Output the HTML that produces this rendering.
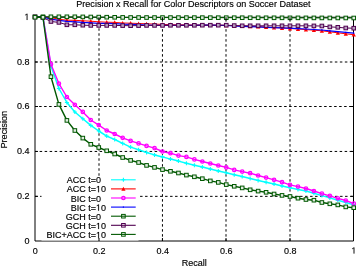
<!DOCTYPE html>
<html><head><meta charset="utf-8"><style>
html,body{margin:0;padding:0;background:#fff;width:356px;height:267px;overflow:hidden}
svg{display:block;will-change:transform}
text{font-family:"Liberation Sans",sans-serif;font-size:9px;fill:#000;stroke:#000;stroke-width:0.15px}
</style></head><body>
<svg width="356" height="267" viewBox="0 0 356 267">
<rect width="356" height="267" fill="#fff"/>
<g stroke="#000" stroke-width="1"><line x1="35.0" y1="196.35" x2="353.75" y2="196.35" stroke-dasharray="2.5 2.5" stroke-dashoffset="4.95"/><line x1="99.0" y1="241.0" x2="99.0" y2="17.25" stroke-dasharray="2.5 2.5" stroke-dashoffset="4.75"/><line x1="35.0" y1="151.45" x2="353.75" y2="151.45" stroke-dasharray="2.5 2.5" stroke-dashoffset="0.35"/><line x1="162.45" y1="241.0" x2="162.45" y2="17.25" stroke-dasharray="2.5 2.5" stroke-dashoffset="0.65"/><line x1="35.0" y1="106.5" x2="353.75" y2="106.5" stroke-dasharray="2.5 2.5" stroke-dashoffset="0.85"/><line x1="226.0" y1="241.0" x2="226.0" y2="17.25" stroke-dasharray="2.5 2.5" stroke-dashoffset="0.65"/><line x1="35.0" y1="62.0" x2="353.75" y2="62.0" stroke-dasharray="2.5 2.5" stroke-dashoffset="0.15"/><line x1="290.0" y1="241.0" x2="290.0" y2="17.25" stroke-dasharray="2.5 2.5" stroke-dashoffset="0.65"/></g>
<path d="M35.0 17.25V241.0H353.5V17.25Z" fill="none" stroke="#000" stroke-width="1"/>
<polyline points="35.00,17.25 42.97,17.25 50.94,66.00 58.91,88.50 66.88,102.50 74.84,112.00 82.81,118.70 90.78,125.40 98.75,131.00 106.72,136.10 114.69,139.50 122.66,143.40 130.62,147.10 138.59,149.80 146.56,152.50 154.53,154.90 162.50,156.90 170.47,159.10 178.44,161.10 186.41,163.30 194.38,165.20 202.34,167.10 210.31,169.00 218.28,170.90 226.25,172.80 234.22,174.70 242.19,176.60 250.16,178.50 258.12,180.40 266.09,182.30 274.06,184.10 282.03,186.00 290.00,187.80 297.97,189.40 305.94,191.00 313.91,193.30 321.88,195.60 329.84,197.90 337.81,200.20 345.78,202.50 353.75,204.90" fill="none" stroke="#00ffff" stroke-width="1.5" stroke-linejoin="round"/><path d="M33.00 17.25H37.00M35.00 15.25V19.25" stroke="#00ffff" stroke-width="1.1"/><path d="M40.97 17.25H44.97M42.97 15.25V19.25" stroke="#00ffff" stroke-width="1.1"/><path d="M48.94 66.00H52.94M50.94 64.00V68.00" stroke="#00ffff" stroke-width="1.1"/><path d="M56.91 88.50H60.91M58.91 86.50V90.50" stroke="#00ffff" stroke-width="1.1"/><path d="M64.88 102.50H68.88M66.88 100.50V104.50" stroke="#00ffff" stroke-width="1.1"/><path d="M72.84 112.00H76.84M74.84 110.00V114.00" stroke="#00ffff" stroke-width="1.1"/><path d="M80.81 118.70H84.81M82.81 116.70V120.70" stroke="#00ffff" stroke-width="1.1"/><path d="M88.78 125.40H92.78M90.78 123.40V127.40" stroke="#00ffff" stroke-width="1.1"/><path d="M96.75 131.00H100.75M98.75 129.00V133.00" stroke="#00ffff" stroke-width="1.1"/><path d="M104.72 136.10H108.72M106.72 134.10V138.10" stroke="#00ffff" stroke-width="1.1"/><path d="M112.69 139.50H116.69M114.69 137.50V141.50" stroke="#00ffff" stroke-width="1.1"/><path d="M120.66 143.40H124.66M122.66 141.40V145.40" stroke="#00ffff" stroke-width="1.1"/><path d="M128.62 147.10H132.62M130.62 145.10V149.10" stroke="#00ffff" stroke-width="1.1"/><path d="M136.59 149.80H140.59M138.59 147.80V151.80" stroke="#00ffff" stroke-width="1.1"/><path d="M144.56 152.50H148.56M146.56 150.50V154.50" stroke="#00ffff" stroke-width="1.1"/><path d="M152.53 154.90H156.53M154.53 152.90V156.90" stroke="#00ffff" stroke-width="1.1"/><path d="M160.50 156.90H164.50M162.50 154.90V158.90" stroke="#00ffff" stroke-width="1.1"/><path d="M168.47 159.10H172.47M170.47 157.10V161.10" stroke="#00ffff" stroke-width="1.1"/><path d="M176.44 161.10H180.44M178.44 159.10V163.10" stroke="#00ffff" stroke-width="1.1"/><path d="M184.41 163.30H188.41M186.41 161.30V165.30" stroke="#00ffff" stroke-width="1.1"/><path d="M192.38 165.20H196.38M194.38 163.20V167.20" stroke="#00ffff" stroke-width="1.1"/><path d="M200.34 167.10H204.34M202.34 165.10V169.10" stroke="#00ffff" stroke-width="1.1"/><path d="M208.31 169.00H212.31M210.31 167.00V171.00" stroke="#00ffff" stroke-width="1.1"/><path d="M216.28 170.90H220.28M218.28 168.90V172.90" stroke="#00ffff" stroke-width="1.1"/><path d="M224.25 172.80H228.25M226.25 170.80V174.80" stroke="#00ffff" stroke-width="1.1"/><path d="M232.22 174.70H236.22M234.22 172.70V176.70" stroke="#00ffff" stroke-width="1.1"/><path d="M240.19 176.60H244.19M242.19 174.60V178.60" stroke="#00ffff" stroke-width="1.1"/><path d="M248.16 178.50H252.16M250.16 176.50V180.50" stroke="#00ffff" stroke-width="1.1"/><path d="M256.12 180.40H260.12M258.12 178.40V182.40" stroke="#00ffff" stroke-width="1.1"/><path d="M264.09 182.30H268.09M266.09 180.30V184.30" stroke="#00ffff" stroke-width="1.1"/><path d="M272.06 184.10H276.06M274.06 182.10V186.10" stroke="#00ffff" stroke-width="1.1"/><path d="M280.03 186.00H284.03M282.03 184.00V188.00" stroke="#00ffff" stroke-width="1.1"/><path d="M288.00 187.80H292.00M290.00 185.80V189.80" stroke="#00ffff" stroke-width="1.1"/><path d="M295.97 189.40H299.97M297.97 187.40V191.40" stroke="#00ffff" stroke-width="1.1"/><path d="M303.94 191.00H307.94M305.94 189.00V193.00" stroke="#00ffff" stroke-width="1.1"/><path d="M311.91 193.30H315.91M313.91 191.30V195.30" stroke="#00ffff" stroke-width="1.1"/><path d="M319.88 195.60H323.88M321.88 193.60V197.60" stroke="#00ffff" stroke-width="1.1"/><path d="M327.84 197.90H331.84M329.84 195.90V199.90" stroke="#00ffff" stroke-width="1.1"/><path d="M335.81 200.20H339.81M337.81 198.20V202.20" stroke="#00ffff" stroke-width="1.1"/><path d="M343.78 202.50H347.78M345.78 200.50V204.50" stroke="#00ffff" stroke-width="1.1"/><path d="M351.75 204.90H355.75M353.75 202.90V206.90" stroke="#00ffff" stroke-width="1.1"/>
<polyline points="35.00,16.90 42.97,16.90 50.94,17.50 58.91,19.30 66.88,20.20 74.84,20.30 82.81,20.80 90.78,21.20 98.75,21.80 106.72,22.20 114.69,22.40 122.66,23.00 130.62,23.20 138.59,23.50 146.56,23.80 154.53,24.10 162.50,24.40 170.47,24.70 178.44,24.80 186.41,24.90 194.38,25.00 202.34,25.00 210.31,25.10 218.28,25.20 226.25,25.40 234.22,25.70 242.19,26.00 250.16,26.30 258.12,26.60 266.09,27.20 274.06,27.60 282.03,28.00 290.00,28.50 297.97,29.00 305.94,29.60 313.91,30.20 321.88,30.80 329.84,31.80 337.81,32.80 345.78,33.80 353.75,34.70" fill="none" stroke="#ff0000" stroke-width="1.0" stroke-linejoin="round"/><path d="M35.00 14.80L37.10 18.79L32.90 18.79Z" fill="#ff0000"/><path d="M42.97 14.80L45.07 18.79L40.87 18.79Z" fill="#ff0000"/><path d="M50.94 15.40L53.04 19.39L48.84 19.39Z" fill="#ff0000"/><path d="M58.91 17.20L61.01 21.19L56.81 21.19Z" fill="#ff0000"/><path d="M66.88 18.10L68.97 22.09L64.78 22.09Z" fill="#ff0000"/><path d="M74.84 18.20L76.94 22.19L72.74 22.19Z" fill="#ff0000"/><path d="M82.81 18.70L84.91 22.69L80.71 22.69Z" fill="#ff0000"/><path d="M90.78 19.10L92.88 23.09L88.68 23.09Z" fill="#ff0000"/><path d="M98.75 19.70L100.85 23.69L96.65 23.69Z" fill="#ff0000"/><path d="M106.72 20.10L108.82 24.09L104.62 24.09Z" fill="#ff0000"/><path d="M114.69 20.30L116.79 24.29L112.59 24.29Z" fill="#ff0000"/><path d="M122.66 20.90L124.76 24.89L120.56 24.89Z" fill="#ff0000"/><path d="M130.62 21.10L132.72 25.09L128.53 25.09Z" fill="#ff0000"/><path d="M138.59 21.40L140.69 25.39L136.49 25.39Z" fill="#ff0000"/><path d="M146.56 21.70L148.66 25.69L144.46 25.69Z" fill="#ff0000"/><path d="M154.53 22.00L156.63 25.99L152.43 25.99Z" fill="#ff0000"/><path d="M162.50 22.30L164.60 26.29L160.40 26.29Z" fill="#ff0000"/><path d="M170.47 22.60L172.57 26.59L168.37 26.59Z" fill="#ff0000"/><path d="M178.44 22.70L180.54 26.69L176.34 26.69Z" fill="#ff0000"/><path d="M186.41 22.80L188.51 26.79L184.31 26.79Z" fill="#ff0000"/><path d="M194.38 22.90L196.47 26.89L192.28 26.89Z" fill="#ff0000"/><path d="M202.34 22.90L204.44 26.89L200.24 26.89Z" fill="#ff0000"/><path d="M210.31 23.00L212.41 26.99L208.21 26.99Z" fill="#ff0000"/><path d="M218.28 23.10L220.38 27.09L216.18 27.09Z" fill="#ff0000"/><path d="M226.25 23.30L228.35 27.29L224.15 27.29Z" fill="#ff0000"/><path d="M234.22 23.60L236.32 27.59L232.12 27.59Z" fill="#ff0000"/><path d="M242.19 23.90L244.29 27.89L240.09 27.89Z" fill="#ff0000"/><path d="M250.16 24.20L252.26 28.19L248.06 28.19Z" fill="#ff0000"/><path d="M258.12 24.50L260.23 28.49L256.02 28.49Z" fill="#ff0000"/><path d="M266.09 25.10L268.19 29.09L263.99 29.09Z" fill="#ff0000"/><path d="M274.06 25.50L276.16 29.49L271.96 29.49Z" fill="#ff0000"/><path d="M282.03 25.90L284.13 29.89L279.93 29.89Z" fill="#ff0000"/><path d="M290.00 26.40L292.10 30.39L287.90 30.39Z" fill="#ff0000"/><path d="M297.97 26.90L300.07 30.89L295.87 30.89Z" fill="#ff0000"/><path d="M305.94 27.50L308.04 31.49L303.84 31.49Z" fill="#ff0000"/><path d="M313.91 28.10L316.01 32.09L311.81 32.09Z" fill="#ff0000"/><path d="M321.88 28.70L323.98 32.69L319.77 32.69Z" fill="#ff0000"/><path d="M329.84 29.70L331.94 33.69L327.74 33.69Z" fill="#ff0000"/><path d="M337.81 30.70L339.91 34.69L335.71 34.69Z" fill="#ff0000"/><path d="M345.78 31.70L347.88 35.69L343.68 35.69Z" fill="#ff0000"/><path d="M353.75 32.60L355.85 36.59L351.65 36.59Z" fill="#ff0000"/>
<polyline points="35.00,17.25 42.97,17.25 50.94,64.20 58.91,83.60 66.88,97.00 74.84,104.80 82.81,111.90 90.78,120.00 98.75,125.10 106.72,130.50 114.69,134.00 122.66,137.80 130.62,140.90 138.59,143.40 146.56,145.90 154.53,148.10 162.50,151.50 170.47,153.20 178.44,155.60 186.41,156.90 194.38,159.40 202.34,161.50 210.31,163.50 218.28,165.50 226.25,167.40 234.22,169.90 242.19,171.60 250.16,173.20 258.12,175.50 266.09,177.60 274.06,179.80 282.03,182.20 290.00,184.90 297.97,186.60 305.94,188.50 313.91,191.00 321.88,193.60 329.84,195.80 337.81,198.30 345.78,200.50 353.75,203.60" fill="none" stroke="#ff00ff" stroke-width="1.4" stroke-linejoin="round"/><circle cx="35.00" cy="17.25" r="1.7" fill="none" stroke="#ff00ff" stroke-width="1.3"/><circle cx="42.97" cy="17.25" r="1.7" fill="none" stroke="#ff00ff" stroke-width="1.3"/><circle cx="50.94" cy="64.20" r="1.7" fill="none" stroke="#ff00ff" stroke-width="1.3"/><circle cx="58.91" cy="83.60" r="1.7" fill="none" stroke="#ff00ff" stroke-width="1.3"/><circle cx="66.88" cy="97.00" r="1.7" fill="none" stroke="#ff00ff" stroke-width="1.3"/><circle cx="74.84" cy="104.80" r="1.7" fill="none" stroke="#ff00ff" stroke-width="1.3"/><circle cx="82.81" cy="111.90" r="1.7" fill="none" stroke="#ff00ff" stroke-width="1.3"/><circle cx="90.78" cy="120.00" r="1.7" fill="none" stroke="#ff00ff" stroke-width="1.3"/><circle cx="98.75" cy="125.10" r="1.7" fill="none" stroke="#ff00ff" stroke-width="1.3"/><circle cx="106.72" cy="130.50" r="1.7" fill="none" stroke="#ff00ff" stroke-width="1.3"/><circle cx="114.69" cy="134.00" r="1.7" fill="none" stroke="#ff00ff" stroke-width="1.3"/><circle cx="122.66" cy="137.80" r="1.7" fill="none" stroke="#ff00ff" stroke-width="1.3"/><circle cx="130.62" cy="140.90" r="1.7" fill="none" stroke="#ff00ff" stroke-width="1.3"/><circle cx="138.59" cy="143.40" r="1.7" fill="none" stroke="#ff00ff" stroke-width="1.3"/><circle cx="146.56" cy="145.90" r="1.7" fill="none" stroke="#ff00ff" stroke-width="1.3"/><circle cx="154.53" cy="148.10" r="1.7" fill="none" stroke="#ff00ff" stroke-width="1.3"/><circle cx="162.50" cy="151.50" r="1.7" fill="none" stroke="#ff00ff" stroke-width="1.3"/><circle cx="170.47" cy="153.20" r="1.7" fill="none" stroke="#ff00ff" stroke-width="1.3"/><circle cx="178.44" cy="155.60" r="1.7" fill="none" stroke="#ff00ff" stroke-width="1.3"/><circle cx="186.41" cy="156.90" r="1.7" fill="none" stroke="#ff00ff" stroke-width="1.3"/><circle cx="194.38" cy="159.40" r="1.7" fill="none" stroke="#ff00ff" stroke-width="1.3"/><circle cx="202.34" cy="161.50" r="1.7" fill="none" stroke="#ff00ff" stroke-width="1.3"/><circle cx="210.31" cy="163.50" r="1.7" fill="none" stroke="#ff00ff" stroke-width="1.3"/><circle cx="218.28" cy="165.50" r="1.7" fill="none" stroke="#ff00ff" stroke-width="1.3"/><circle cx="226.25" cy="167.40" r="1.7" fill="none" stroke="#ff00ff" stroke-width="1.3"/><circle cx="234.22" cy="169.90" r="1.7" fill="none" stroke="#ff00ff" stroke-width="1.3"/><circle cx="242.19" cy="171.60" r="1.7" fill="none" stroke="#ff00ff" stroke-width="1.3"/><circle cx="250.16" cy="173.20" r="1.7" fill="none" stroke="#ff00ff" stroke-width="1.3"/><circle cx="258.12" cy="175.50" r="1.7" fill="none" stroke="#ff00ff" stroke-width="1.3"/><circle cx="266.09" cy="177.60" r="1.7" fill="none" stroke="#ff00ff" stroke-width="1.3"/><circle cx="274.06" cy="179.80" r="1.7" fill="none" stroke="#ff00ff" stroke-width="1.3"/><circle cx="282.03" cy="182.20" r="1.7" fill="none" stroke="#ff00ff" stroke-width="1.3"/><circle cx="290.00" cy="184.90" r="1.7" fill="none" stroke="#ff00ff" stroke-width="1.3"/><circle cx="297.97" cy="186.60" r="1.7" fill="none" stroke="#ff00ff" stroke-width="1.3"/><circle cx="305.94" cy="188.50" r="1.7" fill="none" stroke="#ff00ff" stroke-width="1.3"/><circle cx="313.91" cy="191.00" r="1.7" fill="none" stroke="#ff00ff" stroke-width="1.3"/><circle cx="321.88" cy="193.60" r="1.7" fill="none" stroke="#ff00ff" stroke-width="1.3"/><circle cx="329.84" cy="195.80" r="1.7" fill="none" stroke="#ff00ff" stroke-width="1.3"/><circle cx="337.81" cy="198.30" r="1.7" fill="none" stroke="#ff00ff" stroke-width="1.3"/><circle cx="345.78" cy="200.50" r="1.7" fill="none" stroke="#ff00ff" stroke-width="1.3"/><circle cx="353.75" cy="203.60" r="1.7" fill="none" stroke="#ff00ff" stroke-width="1.3"/>
<polyline points="35.00,16.90 42.97,16.90 50.94,19.10 58.91,20.30 66.88,21.40 74.84,21.80 82.81,22.40 90.78,22.80 98.75,23.30 106.72,23.40 114.69,23.60 122.66,24.20 130.62,24.30 138.59,24.60 146.56,25.00 154.53,25.30 162.50,25.40 170.47,25.40 178.44,25.40 186.41,25.30 194.38,25.30 202.34,25.20 210.31,25.20 218.28,25.30 226.25,25.50 234.22,26.00 242.19,26.30 250.16,26.60 258.12,26.90 266.09,27.30 274.06,27.60 282.03,27.90 290.00,28.20 297.97,28.60 305.94,29.00 313.91,29.50 321.88,30.00 329.84,30.80 337.81,31.60 345.78,32.40 353.75,33.20" fill="none" stroke="#0000ff" stroke-width="1.2" stroke-linejoin="round"/><rect x="34.40" y="16.30" width="1.2" height="1.2" fill="#0000ff"/><rect x="42.37" y="16.30" width="1.2" height="1.2" fill="#0000ff"/><rect x="50.34" y="18.50" width="1.2" height="1.2" fill="#0000ff"/><rect x="58.31" y="19.70" width="1.2" height="1.2" fill="#0000ff"/><rect x="66.28" y="20.80" width="1.2" height="1.2" fill="#0000ff"/><rect x="74.24" y="21.20" width="1.2" height="1.2" fill="#0000ff"/><rect x="82.21" y="21.80" width="1.2" height="1.2" fill="#0000ff"/><rect x="90.18" y="22.20" width="1.2" height="1.2" fill="#0000ff"/><rect x="98.15" y="22.70" width="1.2" height="1.2" fill="#0000ff"/><rect x="106.12" y="22.80" width="1.2" height="1.2" fill="#0000ff"/><rect x="114.09" y="23.00" width="1.2" height="1.2" fill="#0000ff"/><rect x="122.06" y="23.60" width="1.2" height="1.2" fill="#0000ff"/><rect x="130.03" y="23.70" width="1.2" height="1.2" fill="#0000ff"/><rect x="137.99" y="24.00" width="1.2" height="1.2" fill="#0000ff"/><rect x="145.96" y="24.40" width="1.2" height="1.2" fill="#0000ff"/><rect x="153.93" y="24.70" width="1.2" height="1.2" fill="#0000ff"/><rect x="161.90" y="24.80" width="1.2" height="1.2" fill="#0000ff"/><rect x="169.87" y="24.80" width="1.2" height="1.2" fill="#0000ff"/><rect x="177.84" y="24.80" width="1.2" height="1.2" fill="#0000ff"/><rect x="185.81" y="24.70" width="1.2" height="1.2" fill="#0000ff"/><rect x="193.78" y="24.70" width="1.2" height="1.2" fill="#0000ff"/><rect x="201.74" y="24.60" width="1.2" height="1.2" fill="#0000ff"/><rect x="209.71" y="24.60" width="1.2" height="1.2" fill="#0000ff"/><rect x="217.68" y="24.70" width="1.2" height="1.2" fill="#0000ff"/><rect x="225.65" y="24.90" width="1.2" height="1.2" fill="#0000ff"/><rect x="233.62" y="25.40" width="1.2" height="1.2" fill="#0000ff"/><rect x="241.59" y="25.70" width="1.2" height="1.2" fill="#0000ff"/><rect x="249.56" y="26.00" width="1.2" height="1.2" fill="#0000ff"/><rect x="257.52" y="26.30" width="1.2" height="1.2" fill="#0000ff"/><rect x="265.49" y="26.70" width="1.2" height="1.2" fill="#0000ff"/><rect x="273.46" y="27.00" width="1.2" height="1.2" fill="#0000ff"/><rect x="281.43" y="27.30" width="1.2" height="1.2" fill="#0000ff"/><rect x="289.40" y="27.60" width="1.2" height="1.2" fill="#0000ff"/><rect x="297.37" y="28.00" width="1.2" height="1.2" fill="#0000ff"/><rect x="305.34" y="28.40" width="1.2" height="1.2" fill="#0000ff"/><rect x="313.31" y="28.90" width="1.2" height="1.2" fill="#0000ff"/><rect x="321.27" y="29.40" width="1.2" height="1.2" fill="#0000ff"/><rect x="329.24" y="30.20" width="1.2" height="1.2" fill="#0000ff"/><rect x="337.21" y="31.00" width="1.2" height="1.2" fill="#0000ff"/><rect x="345.18" y="31.80" width="1.2" height="1.2" fill="#0000ff"/><rect x="353.15" y="32.60" width="1.2" height="1.2" fill="#0000ff"/>
<polyline points="35.00,16.80 42.97,16.80 50.94,16.80 58.91,16.80 66.88,16.80 74.84,16.80 82.81,16.90 90.78,17.00 98.75,17.10 106.72,17.20 114.69,17.30 122.66,17.40 130.62,17.50 138.59,17.51 146.56,17.52 154.53,17.54 162.50,17.55 170.47,17.56 178.44,17.58 186.41,17.59 194.38,17.60 202.34,17.62 210.31,17.64 218.28,17.66 226.25,17.68 234.22,17.70 242.19,17.72 250.16,17.74 258.12,17.76 266.09,17.78 274.06,17.80 282.03,17.82 290.00,17.84 297.97,17.86 305.94,17.88 313.91,17.90 321.88,17.92 329.84,17.94 337.81,17.96 345.78,17.98 353.75,18.00" fill="none" stroke="#005800" stroke-width="1.0" stroke-linejoin="round"/><rect x="33.20" y="15.00" width="3.60" height="3.60" fill="#e0ece0" stroke="#005800" stroke-width="1.0"/><rect x="41.17" y="15.00" width="3.60" height="3.60" fill="#e0ece0" stroke="#005800" stroke-width="1.0"/><rect x="49.14" y="15.00" width="3.60" height="3.60" fill="#e0ece0" stroke="#005800" stroke-width="1.0"/><rect x="57.11" y="15.00" width="3.60" height="3.60" fill="#e0ece0" stroke="#005800" stroke-width="1.0"/><rect x="65.08" y="15.00" width="3.60" height="3.60" fill="#e0ece0" stroke="#005800" stroke-width="1.0"/><rect x="73.04" y="15.00" width="3.60" height="3.60" fill="#e0ece0" stroke="#005800" stroke-width="1.0"/><rect x="81.01" y="15.10" width="3.60" height="3.60" fill="#e0ece0" stroke="#005800" stroke-width="1.0"/><rect x="88.98" y="15.20" width="3.60" height="3.60" fill="#e0ece0" stroke="#005800" stroke-width="1.0"/><rect x="96.95" y="15.30" width="3.60" height="3.60" fill="#e0ece0" stroke="#005800" stroke-width="1.0"/><rect x="104.92" y="15.40" width="3.60" height="3.60" fill="#e0ece0" stroke="#005800" stroke-width="1.0"/><rect x="112.89" y="15.50" width="3.60" height="3.60" fill="#e0ece0" stroke="#005800" stroke-width="1.0"/><rect x="120.86" y="15.60" width="3.60" height="3.60" fill="#e0ece0" stroke="#005800" stroke-width="1.0"/><rect x="128.82" y="15.70" width="3.60" height="3.60" fill="#e0ece0" stroke="#005800" stroke-width="1.0"/><rect x="136.79" y="15.71" width="3.60" height="3.60" fill="#e0ece0" stroke="#005800" stroke-width="1.0"/><rect x="144.76" y="15.72" width="3.60" height="3.60" fill="#e0ece0" stroke="#005800" stroke-width="1.0"/><rect x="152.73" y="15.74" width="3.60" height="3.60" fill="#e0ece0" stroke="#005800" stroke-width="1.0"/><rect x="160.70" y="15.75" width="3.60" height="3.60" fill="#e0ece0" stroke="#005800" stroke-width="1.0"/><rect x="168.67" y="15.76" width="3.60" height="3.60" fill="#e0ece0" stroke="#005800" stroke-width="1.0"/><rect x="176.64" y="15.78" width="3.60" height="3.60" fill="#e0ece0" stroke="#005800" stroke-width="1.0"/><rect x="184.61" y="15.79" width="3.60" height="3.60" fill="#e0ece0" stroke="#005800" stroke-width="1.0"/><rect x="192.57" y="15.80" width="3.60" height="3.60" fill="#e0ece0" stroke="#005800" stroke-width="1.0"/><rect x="200.54" y="15.82" width="3.60" height="3.60" fill="#e0ece0" stroke="#005800" stroke-width="1.0"/><rect x="208.51" y="15.84" width="3.60" height="3.60" fill="#e0ece0" stroke="#005800" stroke-width="1.0"/><rect x="216.48" y="15.86" width="3.60" height="3.60" fill="#e0ece0" stroke="#005800" stroke-width="1.0"/><rect x="224.45" y="15.88" width="3.60" height="3.60" fill="#e0ece0" stroke="#005800" stroke-width="1.0"/><rect x="232.42" y="15.90" width="3.60" height="3.60" fill="#e0ece0" stroke="#005800" stroke-width="1.0"/><rect x="240.39" y="15.92" width="3.60" height="3.60" fill="#e0ece0" stroke="#005800" stroke-width="1.0"/><rect x="248.36" y="15.94" width="3.60" height="3.60" fill="#e0ece0" stroke="#005800" stroke-width="1.0"/><rect x="256.32" y="15.96" width="3.60" height="3.60" fill="#e0ece0" stroke="#005800" stroke-width="1.0"/><rect x="264.29" y="15.98" width="3.60" height="3.60" fill="#e0ece0" stroke="#005800" stroke-width="1.0"/><rect x="272.26" y="16.00" width="3.60" height="3.60" fill="#e0ece0" stroke="#005800" stroke-width="1.0"/><rect x="280.23" y="16.02" width="3.60" height="3.60" fill="#e0ece0" stroke="#005800" stroke-width="1.0"/><rect x="288.20" y="16.04" width="3.60" height="3.60" fill="#e0ece0" stroke="#005800" stroke-width="1.0"/><rect x="296.17" y="16.06" width="3.60" height="3.60" fill="#e0ece0" stroke="#005800" stroke-width="1.0"/><rect x="304.14" y="16.08" width="3.60" height="3.60" fill="#e0ece0" stroke="#005800" stroke-width="1.0"/><rect x="312.11" y="16.10" width="3.60" height="3.60" fill="#e0ece0" stroke="#005800" stroke-width="1.0"/><rect x="320.07" y="16.12" width="3.60" height="3.60" fill="#e0ece0" stroke="#005800" stroke-width="1.0"/><rect x="328.04" y="16.14" width="3.60" height="3.60" fill="#e0ece0" stroke="#005800" stroke-width="1.0"/><rect x="336.01" y="16.16" width="3.60" height="3.60" fill="#e0ece0" stroke="#005800" stroke-width="1.0"/><rect x="343.98" y="16.18" width="3.60" height="3.60" fill="#e0ece0" stroke="#005800" stroke-width="1.0"/><rect x="351.95" y="16.20" width="3.60" height="3.60" fill="#e0ece0" stroke="#005800" stroke-width="1.0"/>
<polyline points="35.00,16.90 42.97,17.50 50.94,21.50 58.91,22.40 66.88,24.80 74.84,24.80 82.81,25.20 90.78,25.40 98.75,25.40 106.72,25.40 114.69,25.40 122.66,25.60 130.62,25.70 138.59,25.60 146.56,25.40 154.53,25.40 162.50,25.40 170.47,25.30 178.44,25.30 186.41,25.30 194.38,25.30 202.34,25.20 210.31,25.20 218.28,25.20 226.25,25.20 234.22,25.60 242.19,25.80 250.16,25.80 258.12,25.80 266.09,25.80 274.06,25.80 282.03,25.80 290.00,25.80 297.97,25.80 305.94,25.80 313.91,25.90 321.88,26.00 329.84,26.90 337.81,27.30 345.78,28.00 353.75,28.20" fill="none" stroke="#500050" stroke-width="1.0" stroke-linejoin="round"/><rect x="33.20" y="15.10" width="3.60" height="3.60" fill="#b8a0c0" stroke="#500050" stroke-width="1.0"/><rect x="41.17" y="15.70" width="3.60" height="3.60" fill="#b8a0c0" stroke="#500050" stroke-width="1.0"/><rect x="49.14" y="19.70" width="3.60" height="3.60" fill="#b8a0c0" stroke="#500050" stroke-width="1.0"/><rect x="57.11" y="20.60" width="3.60" height="3.60" fill="#b8a0c0" stroke="#500050" stroke-width="1.0"/><rect x="65.08" y="23.00" width="3.60" height="3.60" fill="#b8a0c0" stroke="#500050" stroke-width="1.0"/><rect x="73.04" y="23.00" width="3.60" height="3.60" fill="#b8a0c0" stroke="#500050" stroke-width="1.0"/><rect x="81.01" y="23.40" width="3.60" height="3.60" fill="#b8a0c0" stroke="#500050" stroke-width="1.0"/><rect x="88.98" y="23.60" width="3.60" height="3.60" fill="#b8a0c0" stroke="#500050" stroke-width="1.0"/><rect x="96.95" y="23.60" width="3.60" height="3.60" fill="#b8a0c0" stroke="#500050" stroke-width="1.0"/><rect x="104.92" y="23.60" width="3.60" height="3.60" fill="#b8a0c0" stroke="#500050" stroke-width="1.0"/><rect x="112.89" y="23.60" width="3.60" height="3.60" fill="#b8a0c0" stroke="#500050" stroke-width="1.0"/><rect x="120.86" y="23.80" width="3.60" height="3.60" fill="#b8a0c0" stroke="#500050" stroke-width="1.0"/><rect x="128.82" y="23.90" width="3.60" height="3.60" fill="#b8a0c0" stroke="#500050" stroke-width="1.0"/><rect x="136.79" y="23.80" width="3.60" height="3.60" fill="#b8a0c0" stroke="#500050" stroke-width="1.0"/><rect x="144.76" y="23.60" width="3.60" height="3.60" fill="#b8a0c0" stroke="#500050" stroke-width="1.0"/><rect x="152.73" y="23.60" width="3.60" height="3.60" fill="#b8a0c0" stroke="#500050" stroke-width="1.0"/><rect x="160.70" y="23.60" width="3.60" height="3.60" fill="#b8a0c0" stroke="#500050" stroke-width="1.0"/><rect x="168.67" y="23.50" width="3.60" height="3.60" fill="#b8a0c0" stroke="#500050" stroke-width="1.0"/><rect x="176.64" y="23.50" width="3.60" height="3.60" fill="#b8a0c0" stroke="#500050" stroke-width="1.0"/><rect x="184.61" y="23.50" width="3.60" height="3.60" fill="#b8a0c0" stroke="#500050" stroke-width="1.0"/><rect x="192.57" y="23.50" width="3.60" height="3.60" fill="#b8a0c0" stroke="#500050" stroke-width="1.0"/><rect x="200.54" y="23.40" width="3.60" height="3.60" fill="#b8a0c0" stroke="#500050" stroke-width="1.0"/><rect x="208.51" y="23.40" width="3.60" height="3.60" fill="#b8a0c0" stroke="#500050" stroke-width="1.0"/><rect x="216.48" y="23.40" width="3.60" height="3.60" fill="#b8a0c0" stroke="#500050" stroke-width="1.0"/><rect x="224.45" y="23.40" width="3.60" height="3.60" fill="#b8a0c0" stroke="#500050" stroke-width="1.0"/><rect x="232.42" y="23.80" width="3.60" height="3.60" fill="#b8a0c0" stroke="#500050" stroke-width="1.0"/><rect x="240.39" y="24.00" width="3.60" height="3.60" fill="#b8a0c0" stroke="#500050" stroke-width="1.0"/><rect x="248.36" y="24.00" width="3.60" height="3.60" fill="#b8a0c0" stroke="#500050" stroke-width="1.0"/><rect x="256.32" y="24.00" width="3.60" height="3.60" fill="#b8a0c0" stroke="#500050" stroke-width="1.0"/><rect x="264.29" y="24.00" width="3.60" height="3.60" fill="#b8a0c0" stroke="#500050" stroke-width="1.0"/><rect x="272.26" y="24.00" width="3.60" height="3.60" fill="#b8a0c0" stroke="#500050" stroke-width="1.0"/><rect x="280.23" y="24.00" width="3.60" height="3.60" fill="#b8a0c0" stroke="#500050" stroke-width="1.0"/><rect x="288.20" y="24.00" width="3.60" height="3.60" fill="#b8a0c0" stroke="#500050" stroke-width="1.0"/><rect x="296.17" y="24.00" width="3.60" height="3.60" fill="#b8a0c0" stroke="#500050" stroke-width="1.0"/><rect x="304.14" y="24.00" width="3.60" height="3.60" fill="#b8a0c0" stroke="#500050" stroke-width="1.0"/><rect x="312.11" y="24.10" width="3.60" height="3.60" fill="#b8a0c0" stroke="#500050" stroke-width="1.0"/><rect x="320.07" y="24.20" width="3.60" height="3.60" fill="#b8a0c0" stroke="#500050" stroke-width="1.0"/><rect x="328.04" y="25.10" width="3.60" height="3.60" fill="#b8a0c0" stroke="#500050" stroke-width="1.0"/><rect x="336.01" y="25.50" width="3.60" height="3.60" fill="#b8a0c0" stroke="#500050" stroke-width="1.0"/><rect x="343.98" y="26.20" width="3.60" height="3.60" fill="#b8a0c0" stroke="#500050" stroke-width="1.0"/><rect x="351.95" y="26.40" width="3.60" height="3.60" fill="#b8a0c0" stroke="#500050" stroke-width="1.0"/>
<polyline points="35.00,17.25 42.97,17.25 50.94,76.70 58.91,104.40 66.88,120.40 74.84,130.50 82.81,138.10 90.78,144.30 98.75,147.50 106.72,150.80 114.69,154.00 122.66,157.50 130.62,160.40 138.59,162.50 146.56,165.40 154.53,167.40 162.50,169.60 170.47,171.30 178.44,173.00 186.41,175.10 194.38,176.80 202.34,178.70 210.31,180.90 218.28,182.40 226.25,184.60 234.22,186.30 242.19,187.90 250.16,189.80 258.12,191.10 266.09,192.30 274.06,194.00 282.03,195.40 290.00,196.50 297.97,198.20 305.94,199.50 313.91,200.20 321.88,202.50 329.84,203.80 337.81,204.90 345.78,206.90 353.75,207.70" fill="none" stroke="#005800" stroke-width="1.4" stroke-linejoin="round"/><rect x="33.20" y="15.45" width="3.60" height="3.60" fill="#e0ece0" stroke="#005800" stroke-width="1.0"/><rect x="41.17" y="15.45" width="3.60" height="3.60" fill="#e0ece0" stroke="#005800" stroke-width="1.0"/><rect x="49.14" y="74.90" width="3.60" height="3.60" fill="#e0ece0" stroke="#005800" stroke-width="1.0"/><rect x="57.11" y="102.60" width="3.60" height="3.60" fill="#e0ece0" stroke="#005800" stroke-width="1.0"/><rect x="65.08" y="118.60" width="3.60" height="3.60" fill="#e0ece0" stroke="#005800" stroke-width="1.0"/><rect x="73.04" y="128.70" width="3.60" height="3.60" fill="#e0ece0" stroke="#005800" stroke-width="1.0"/><rect x="81.01" y="136.30" width="3.60" height="3.60" fill="#e0ece0" stroke="#005800" stroke-width="1.0"/><rect x="88.98" y="142.50" width="3.60" height="3.60" fill="#e0ece0" stroke="#005800" stroke-width="1.0"/><rect x="96.95" y="145.70" width="3.60" height="3.60" fill="#e0ece0" stroke="#005800" stroke-width="1.0"/><rect x="104.92" y="149.00" width="3.60" height="3.60" fill="#e0ece0" stroke="#005800" stroke-width="1.0"/><rect x="112.89" y="152.20" width="3.60" height="3.60" fill="#e0ece0" stroke="#005800" stroke-width="1.0"/><rect x="120.86" y="155.70" width="3.60" height="3.60" fill="#e0ece0" stroke="#005800" stroke-width="1.0"/><rect x="128.82" y="158.60" width="3.60" height="3.60" fill="#e0ece0" stroke="#005800" stroke-width="1.0"/><rect x="136.79" y="160.70" width="3.60" height="3.60" fill="#e0ece0" stroke="#005800" stroke-width="1.0"/><rect x="144.76" y="163.60" width="3.60" height="3.60" fill="#e0ece0" stroke="#005800" stroke-width="1.0"/><rect x="152.73" y="165.60" width="3.60" height="3.60" fill="#e0ece0" stroke="#005800" stroke-width="1.0"/><rect x="160.70" y="167.80" width="3.60" height="3.60" fill="#e0ece0" stroke="#005800" stroke-width="1.0"/><rect x="168.67" y="169.50" width="3.60" height="3.60" fill="#e0ece0" stroke="#005800" stroke-width="1.0"/><rect x="176.64" y="171.20" width="3.60" height="3.60" fill="#e0ece0" stroke="#005800" stroke-width="1.0"/><rect x="184.61" y="173.30" width="3.60" height="3.60" fill="#e0ece0" stroke="#005800" stroke-width="1.0"/><rect x="192.57" y="175.00" width="3.60" height="3.60" fill="#e0ece0" stroke="#005800" stroke-width="1.0"/><rect x="200.54" y="176.90" width="3.60" height="3.60" fill="#e0ece0" stroke="#005800" stroke-width="1.0"/><rect x="208.51" y="179.10" width="3.60" height="3.60" fill="#e0ece0" stroke="#005800" stroke-width="1.0"/><rect x="216.48" y="180.60" width="3.60" height="3.60" fill="#e0ece0" stroke="#005800" stroke-width="1.0"/><rect x="224.45" y="182.80" width="3.60" height="3.60" fill="#e0ece0" stroke="#005800" stroke-width="1.0"/><rect x="232.42" y="184.50" width="3.60" height="3.60" fill="#e0ece0" stroke="#005800" stroke-width="1.0"/><rect x="240.39" y="186.10" width="3.60" height="3.60" fill="#e0ece0" stroke="#005800" stroke-width="1.0"/><rect x="248.36" y="188.00" width="3.60" height="3.60" fill="#e0ece0" stroke="#005800" stroke-width="1.0"/><rect x="256.32" y="189.30" width="3.60" height="3.60" fill="#e0ece0" stroke="#005800" stroke-width="1.0"/><rect x="264.29" y="190.50" width="3.60" height="3.60" fill="#e0ece0" stroke="#005800" stroke-width="1.0"/><rect x="272.26" y="192.20" width="3.60" height="3.60" fill="#e0ece0" stroke="#005800" stroke-width="1.0"/><rect x="280.23" y="193.60" width="3.60" height="3.60" fill="#e0ece0" stroke="#005800" stroke-width="1.0"/><rect x="288.20" y="194.70" width="3.60" height="3.60" fill="#e0ece0" stroke="#005800" stroke-width="1.0"/><rect x="296.17" y="196.40" width="3.60" height="3.60" fill="#e0ece0" stroke="#005800" stroke-width="1.0"/><rect x="304.14" y="197.70" width="3.60" height="3.60" fill="#e0ece0" stroke="#005800" stroke-width="1.0"/><rect x="312.11" y="198.40" width="3.60" height="3.60" fill="#e0ece0" stroke="#005800" stroke-width="1.0"/><rect x="320.07" y="200.70" width="3.60" height="3.60" fill="#e0ece0" stroke="#005800" stroke-width="1.0"/><rect x="328.04" y="202.00" width="3.60" height="3.60" fill="#e0ece0" stroke="#005800" stroke-width="1.0"/><rect x="336.01" y="203.10" width="3.60" height="3.60" fill="#e0ece0" stroke="#005800" stroke-width="1.0"/><rect x="343.98" y="205.10" width="3.60" height="3.60" fill="#e0ece0" stroke="#005800" stroke-width="1.0"/><rect x="351.95" y="205.90" width="3.60" height="3.60" fill="#e0ece0" stroke="#005800" stroke-width="1.0"/>
<rect x="41.5" y="176.8" width="97" height="63.7" fill="#fff"/>
<path d="M35.0 196.35h3M353.75 196.35h-3M99.00 241.0v-3M99.00 17.25v3M35.0 151.45h3M353.75 151.45h-3M162.45 241.0v-3M162.45 17.25v3M35.0 106.50h3M353.75 106.50h-3M226.00 241.0v-3M226.00 17.25v3M35.0 62.00h3M353.75 62.00h-3M290.00 241.0v-3M290.00 17.25v3" stroke="#000" stroke-width="1" fill="none"/>
<text x="101.0" y="183.10" text-anchor="end">ACC t=0</text>
<line x1="111" y1="179.80" x2="135.7" y2="179.80" stroke="#00ffff" stroke-width="1.1"/>
<path d="M121.40 179.80H125.40M123.40 177.80V181.80" stroke="#00ffff" stroke-width="1.1"/>
<text x="106.0" y="192.30" text-anchor="end">ACC t= 0</text>
<path transform="translate(95.97 192.30) scale(0.004395 -0.004395)" d="M515 0L515 1237L197 1010L197 1180L530 1409L696 1409L696 0Z" fill="#000" stroke="#000" stroke-width="30"/>
<line x1="111" y1="188.90" x2="135.7" y2="188.90" stroke="#ff0000" stroke-width="1.1"/>
<path d="M123.40 186.80L125.50 190.79L121.30 190.79Z" fill="#ff0000"/>
<text x="101.0" y="201.50" text-anchor="end">BIC t=0</text>
<line x1="111" y1="198.00" x2="135.7" y2="198.00" stroke="#ff00ff" stroke-width="1.1"/>
<circle cx="123.40" cy="198.00" r="1.7" fill="none" stroke="#ff00ff" stroke-width="1.3"/>
<text x="106.0" y="210.70" text-anchor="end">BIC t= 0</text>
<path transform="translate(95.97 210.70) scale(0.004395 -0.004395)" d="M515 0L515 1237L197 1010L197 1180L530 1409L696 1409L696 0Z" fill="#000" stroke="#000" stroke-width="30"/>
<line x1="111" y1="207.10" x2="135.7" y2="207.10" stroke="#0000ff" stroke-width="1.1"/>
<rect x="122.80" y="206.50" width="1.2" height="1.2" fill="#0000ff"/>
<text x="101.0" y="219.90" text-anchor="end">GCH t=0</text>
<line x1="111" y1="216.20" x2="135.7" y2="216.20" stroke="#005800" stroke-width="1.1"/>
<rect x="121.60" y="214.40" width="3.60" height="3.60" fill="none" stroke="#005800" stroke-width="1.0"/>
<text x="106.0" y="229.10" text-anchor="end">GCH t= 0</text>
<path transform="translate(95.97 229.10) scale(0.004395 -0.004395)" d="M515 0L515 1237L197 1010L197 1180L530 1409L696 1409L696 0Z" fill="#000" stroke="#000" stroke-width="30"/>
<line x1="111" y1="225.30" x2="135.7" y2="225.30" stroke="#500050" stroke-width="1.1"/>
<rect x="121.60" y="223.50" width="3.60" height="3.60" fill="none" stroke="#500050" stroke-width="1.0"/>
<text x="106.0" y="238.30" text-anchor="end">BIC+ACC t= 0</text>
<path transform="translate(95.97 238.30) scale(0.004395 -0.004395)" d="M515 0L515 1237L197 1010L197 1180L530 1409L696 1409L696 0Z" fill="#000" stroke="#000" stroke-width="30"/>
<line x1="111" y1="234.40" x2="135.7" y2="234.40" stroke="#005800" stroke-width="1.1"/>
<rect x="121.60" y="232.60" width="3.60" height="3.60" fill="none" stroke="#005800" stroke-width="1.0"/>
<text x="29.5" y="243.70" text-anchor="end">0</text>
<text x="35.20" y="253.6" text-anchor="middle">0</text>
<text x="29.5" y="199.05" text-anchor="end">0.2</text>
<text x="99.20" y="253.6" text-anchor="middle">0.2</text>
<text x="29.5" y="154.15" text-anchor="end">0.4</text>
<text x="162.65" y="253.6" text-anchor="middle">0.4</text>
<text x="29.5" y="109.20" text-anchor="end">0.6</text>
<text x="226.20" y="253.6" text-anchor="middle">0.6</text>
<text x="29.5" y="64.70" text-anchor="end">0.8</text>
<text x="290.20" y="253.6" text-anchor="middle">0.8</text>
<path transform="translate(24.40 19.95) scale(0.004395 -0.004395)" d="M515 0L515 1237L197 1010L197 1180L530 1409L696 1409L696 0Z" fill="#000" stroke="#000" stroke-width="30"/>
<path transform="translate(351.34 253.60) scale(0.004395 -0.004395)" d="M515 0L515 1237L197 1010L197 1180L530 1409L696 1409L696 0Z" fill="#000" stroke="#000" stroke-width="30"/>
<text x="76.3" y="6.6" textLength="234.3" lengthAdjust="spacingAndGlyphs">Precision x Recall for Color Descriptors on Soccer Dataset</text>
<text x="194.2" y="266.4" text-anchor="middle">Recall</text>
<text transform="translate(6.7 129.7) rotate(-90)" text-anchor="middle" style="font-size:9.2px">Precision</text>
</svg>
</body></html>
